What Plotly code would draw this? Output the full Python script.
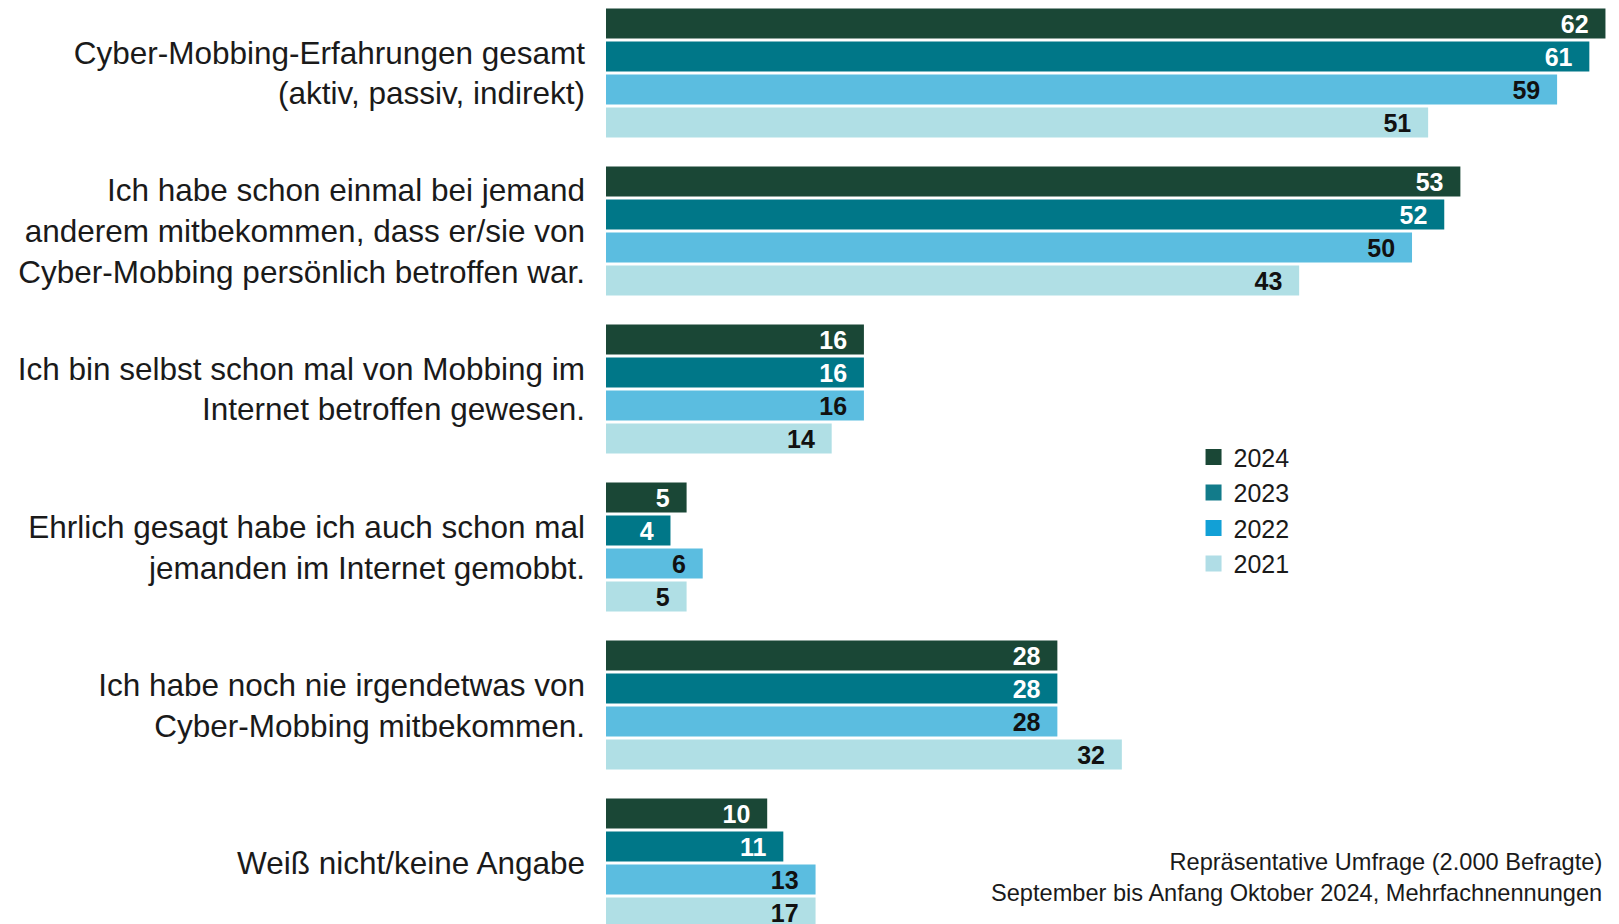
import plotly.graph_objects as go

# survey statements (top to bottom)
categories = [
    "Cyber-Mobbing-Erfahrungen gesamt<br>(aktiv, passiv, indirekt)",
    "Ich habe schon einmal bei jemand<br>anderem mitbekommen, dass er/sie von<br>Cyber-Mobbing persönlich betroffen war.",
    "Ich bin selbst schon mal von Mobbing im<br>Internet betroffen gewesen.",
    "Ehrlich gesagt habe ich auch schon mal<br>jemanden im Internet gemobbt.",
    "Ich habe noch nie irgendetwas von<br>Cyber-Mobbing mitbekommen.",
    "Weiß nicht/keine Angabe",
]

years = ["2024", "2023", "2022", "2021"]

values_2024 = [62, 53, 16, 5, 28, 10]
values_2023 = [61, 52, 16, 4, 28, 11]
values_2022 = [59, 50, 16, 6, 28, 13]
# in the source the last 2021 bar is drawn as long as 13 but labelled 17
values_2021 = [51, 43, 14, 5, 32, 13]
labels_2021 = [51, 43, 14, 5, 32, 17]

series = [values_2024, values_2023, values_2022, values_2021]
labels = [values_2024, values_2023, values_2022, labels_2021]

bar_colors = ["#1a4736", "#007788", "#5bbde0", "#b0dfe5"]
legend_colors = ["#1a4736", "#127b8a", "#12a0d6", "#b0dde6"]
text_colors = ["white", "white", "#111111", "#111111"]

note = "Repräsentative Umfrage (2.000 Befragte)<br>September bis Anfang Oktober 2024, Mehrfachnennungen"

fig = go.Figure()

for year, vals, labs, col, tcol in zip(years, series, labels, bar_colors, text_colors):
    fig.add_trace(go.Bar(
        x=vals,
        y=categories,
        orientation="h",
        name=year,
        showlegend=False,
        marker=dict(color=col, line=dict(width=0)),
        text=[f"{v}\u00a0\u00a0" for v in labs],
        textposition="inside",
        insidetextanchor="end",
        textangle=0,
        constraintext="none",
        textfont=dict(family="Liberation Sans, Arial", size=25, color=tcol, weight="bold"),
        hoverinfo="skip",
    ))

# legend entries with bigger square swatches
for year, col in zip(years, legend_colors):
    fig.add_trace(go.Scatter(
        x=[None], y=[None], mode="markers", name=year,
        marker=dict(symbol="square", size=17, color=col),
        hoverinfo="skip",
    ))

fig.update_layout(
    width=1619,
    height=924,
    margin=dict(l=606, r=0, t=0, b=0),
    paper_bgcolor="white",
    plot_bgcolor="white",
    barmode="group",
    bargap=0.1646,
    bargroupgap=0.0909,
    font=dict(family="Liberation Sans, Arial", color="#1a1a1a"),
    xaxis=dict(range=[0, 62.84], visible=False, fixedrange=True),
    yaxis=dict(
        range=[5.386, -0.462],
        showgrid=False, zeroline=False, showline=False,
        ticks="", ticklabelstandoff=20,
        tickfont=dict(size=31.5, color="#1a1a1a"),
    ),
    showlegend=True,
    legend=dict(
        x=0.58, y=0.530, xanchor="left", yanchor="top",
        font=dict(size=25, color="#1a1a1a"),
        bgcolor="rgba(0,0,0,0)",
        traceorder="normal",
        itemwidth=30,
        tracegroupgap=0,
        itemclick=False, itemdoubleclick=False,
    ),
    annotations=[dict(
        text=note, xref="paper", yref="paper",
        x=0.985, y=0.0498, xanchor="right", yanchor="middle",
        align="right", showarrow=False,
        font=dict(size=23.6, color="#1a1a1a"),
    )],
)

# drop the browser's default page margin so the figure fills the window
fig.write_html("out.html", config={"displayModeBar": False},
               post_script="document.body.style.margin='0';")
